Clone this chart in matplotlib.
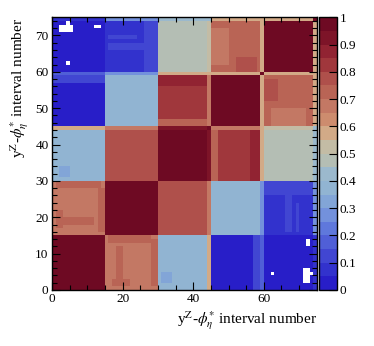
import numpy as np
import matplotlib.pyplot as plt
from matplotlib.colors import ListedColormap, BoundaryNorm

plt.rcParams['font.family'] = ['Liberation Serif', 'DejaVu Serif']
plt.rcParams['mathtext.fontset'] = 'stix'

# 75 intervals, 5 blocks in y^Z of 15 phi* bins each
n_bins = 75
block_size = 15

# mean correlation between the blocks
block_corr = [
    [0.97, 0.68, 0.39, 0.04, 0.03],
    [0.68, 0.97, 0.77, 0.38, 0.08],
    [0.39, 0.77, 0.97, 0.80, 0.48],
    [0.04, 0.38, 0.80, 0.97, 0.74],
    [0.03, 0.08, 0.48, 0.74, 0.97],
]

# bins at the block edges that behave differently: corr with each block
edge_bins = {
    44: [0.57, 0.66, 0.93, 0.68, 0.53],
    59: [0.18, 0.27, 0.58, 0.58, 0.58],
    74: [0.05, 0.25, 0.42, 0.56, 0.60],
}

# local structure inside blocks (x0, x1, y0, y1, value), mirrored on the diagonal
patches = [
    (18, 20, 3, 12, 0.73),
    (16, 28, 13, 15, 0.73),
    (28, 30, 1, 14, 0.73),
    (17, 22, 1, 3, 0.73),
    (56, 59, 30, 44, 0.86),
    (45, 47, 30, 44, 0.72),
    (60, 74, 26, 30, 0.14),
    (66, 68, 16, 26, 0.13),
    (69, 70, 16, 24, 0.13),
    (57, 59, 0, 15, 0.10),
    (31, 34, 2, 5, 0.33),
    (62, 72, 45, 50, 0.70),
    (60, 64, 52, 58, 0.78),
]

# negative correlations (left blank)
blank_cells = [(72, 12), (72, 13), (71, 2), (71, 3), (71, 4), (71, 5),
               (72, 2), (72, 3), (72, 4), (72, 5), (73, 4), (62, 4)]

# build matrix
blk = np.minimum(np.arange(n_bins) // block_size, 4)
corr = np.array(block_corr)[np.ix_(blk, blk)]
for x0, x1, y0, y1, v in patches:
    corr[y0:y1, x0:x1] = v
    corr[x0:x1, y0:y1] = v
for b, vals in edge_bins.items():
    row = np.array(vals)[blk]
    corr[b, :] = row
    corr[:, b] = row
np.fill_diagonal(corr, 1.0)
for x, y in blank_cells:
    corr[y, x] = -1
    corr[x, y] = -1

palette = [
    (40, 30, 200), (50, 50, 205), (65, 70, 210), (80, 95, 215), (95, 120, 220),
    (115, 145, 220), (130, 165, 215), (145, 180, 210), (155, 185, 205), (180, 190, 180),
    (195, 188, 165), (210, 170, 135), (205, 140, 110), (195, 120, 100), (185, 100, 85),
    (175, 80, 75), (160, 55, 60), (145, 35, 50), (125, 20, 40), (110, 10, 35),
]
cmap = ListedColormap([tuple(c / 255 for c in p) for p in palette])
cmap.set_under('white')
norm = BoundaryNorm(np.linspace(0, 1, 21), cmap.N)

fig = plt.figure(figsize=(3.74, 3.46), dpi=100)
ax = fig.add_axes([0.139, 0.162, 0.708, 0.788])
cax = fig.add_axes([0.854, 0.162, 0.046, 0.788])

edges = np.arange(n_bins + 1)
mesh = ax.pcolormesh(edges, edges, corr, cmap=cmap, norm=norm)
ax.set_xlim(0, 75)
ax.set_ylim(0, 75)

ax.set_xticks([0, 20, 40, 60])
ax.set_xticks(np.arange(0, 76, 5), minor=True)
ax.set_yticks(np.arange(0, 71, 10))
ax.set_yticks(np.arange(0, 76, 2), minor=True)
ax.tick_params(which='both', direction='in', top=True, right=True, labelsize=9.5, width=0.8)
ax.tick_params(which='major', length=6, pad=2.5)
ax.tick_params(which='minor', length=3.5)
for s in ax.spines.values():
    s.set_linewidth(1.0)

label = r'y$^{\mathrm{Z}}$-$\phi^{*}_{\eta}$ interval number'
ax.set_xlabel(label, fontsize=11, loc='right')
ax.set_ylabel(label, fontsize=11, loc='top')
ax.xaxis.set_label_coords(1.0, -0.07)
ax.yaxis.set_label_coords(-0.078, 1.0)

cb = fig.colorbar(mesh, cax=cax, ticks=np.arange(0, 1.01, 0.1))
cb.ax.set_yticklabels(['0', '0.1', '0.2', '0.3', '0.4', '0.5', '0.6', '0.7', '0.8', '0.9', '1'])
cb.ax.tick_params(direction='in', length=6, width=0.8, labelsize=9.5, pad=2)
cb.ax.minorticks_off()
cb.outline.set_linewidth(1.0)

fig.savefig('out.png', dpi=100)
